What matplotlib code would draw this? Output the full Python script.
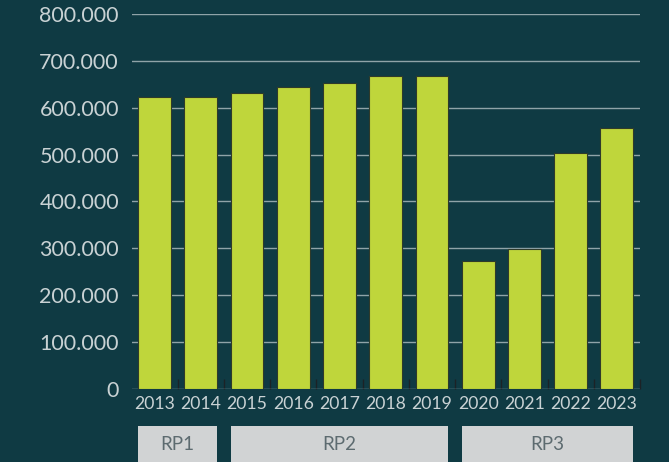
import numpy as np
import matplotlib
matplotlib.use("Agg")
import matplotlib.pyplot as plt
import matplotlib.transforms as mtransforms
from matplotlib.patches import Rectangle

# data
years = ["2013", "2014", "2015", "2016", "2017", "2018", "2019",
         "2020", "2021", "2022", "2023"]
values = [623000, 623000, 631000, 644000, 653000, 668000, 668000,
          273000, 299000, 503000, 557000]
periods = ["RP1", "RP2", "RP3"]
period_first = [0, 2, 7]
period_last = [1, 6, 10]
yticks = [0, 100000, 200000, 300000, 400000, 500000, 600000, 700000, 800000]

bg = "#0f3a43"
bar_col = "#bfd63b"
txt_col = "#c9d2d4"
grid_col = "#8fa3a8"
box_col = "#d1d3d4"
box_txt = "#5d6b70"

plt.rcParams["font.family"] = ["Lato", "DejaVu Sans"]

fig = plt.figure(figsize=(6.69, 4.62), dpi=100, facecolor=bg)
ax = fig.add_axes([131.5 / 669, 1 - 389 / 462, (640 - 131.5) / 669, 375 / 462])
ax.set_facecolor(bg)

x = np.arange(len(years))
bw = 0.71
ax.bar(x, values, width=bw, color=bar_col, edgecolor="#2f3a2a", linewidth=0.8, zorder=3)

ax.set_xlim(-0.5, len(years) - 0.5)
ax.set_ylim(0, 800000)
ax.set_yticks(yticks)
ax.set_yticklabels([f"{v:,}".replace(",", ".") for v in yticks])
ax.set_xticks(x)
ax.set_xticklabels(years)
ax.set_xticks(np.arange(len(years)) + 0.5, minor=True)

ax.grid(axis="y", color=grid_col, linewidth=1.0, zorder=1)
for s in ax.spines.values():
    s.set_visible(False)

ax.tick_params(axis="y", length=0, pad=9, labelsize=15.5, labelcolor=txt_col)
ax.tick_params(axis="x", which="major", length=0, pad=5, labelsize=12.7, labelcolor=txt_col)
ax.tick_params(axis="x", which="minor", direction="in", length=7, width=1, color="#1c2226")

# regulatory period boxes under the axis
trans = mtransforms.blended_transform_factory(ax.transData, ax.transAxes)
for name, a, b in zip(periods, period_first, period_last):
    x0 = a - bw / 2
    x1 = b + bw / 2
    rect = Rectangle((x0, -0.2), x1 - x0, 0.1013, transform=trans,
                     facecolor=box_col, edgecolor="none", clip_on=False)
    ax.add_patch(rect)
    ax.text((x0 + x1) / 2, -0.149, name, transform=trans, ha="center", va="center",
            fontsize=13.5, color=box_txt)

fig.savefig("out.png", dpi=100, facecolor=bg)
